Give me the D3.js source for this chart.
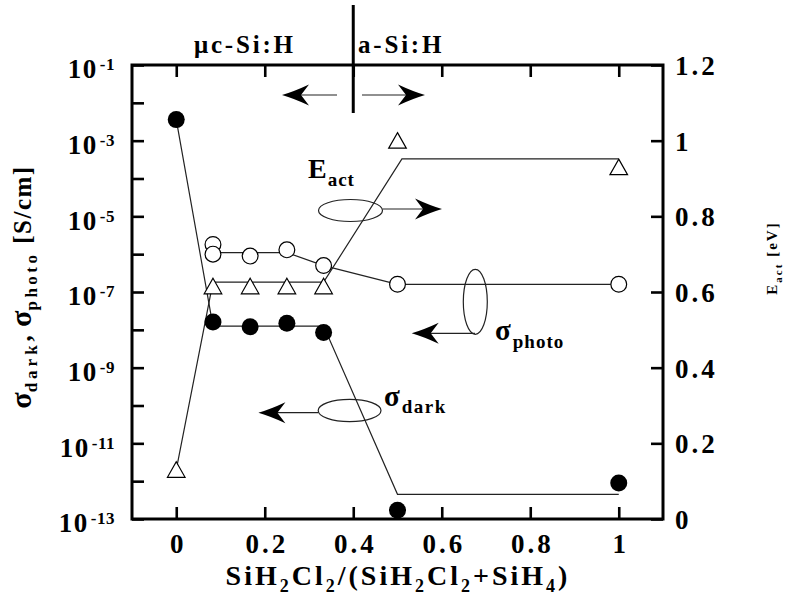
<!DOCTYPE html>
<html>
<head>
<meta charset="utf-8">
<script src="https://cdn.jsdelivr.net/npm/d3@7"></script>
<style>
  body { margin: 0; background: #fff; }
  svg { display: block; }
</style>
</head>
<body>
<svg id="chart" width="790" height="609"></svg>
<script>
// SiH2Cl2 fraction of each film
const ratio = [0, 0.083, 0.167, 0.25, 0.333, 0.5, 1];
// dark conductivity [S/cm]
const sigmaDark = [3.6e-3, 1.6e-8, 1.2e-8, 1.5e-8, 8.5e-9, 1.7e-13, 9e-13];
// photo conductivity [S/cm] (two films at 0.083)
const photoRatio = [0.083, 0.083, 0.167, 0.25, 0.333, 0.5, 1];
const sigmaPhoto = [1.8e-6, 1.0e-6, 8.9e-7, 1.3e-6, 5.0e-7, 1.6e-7, 1.6e-7];
// activation energy [eV]
const eAct = [0.13, 0.615, 0.615, 0.615, 0.615, 1.0, 0.93];

// trend guides drawn through each series
const darkGuideX = [0, 0.083, 0.333, 0.5, 1];
const darkGuideY = [3.6e-3, 1.26e-8, 1.26e-8, 4.5e-13, 4.5e-13];
const photoGuideX = [0.083, 0.25, 0.333, 0.5, 1];
const photoGuideY = [1.1e-6, 1.1e-6, 5.0e-7, 1.6e-7, 1.6e-7];
const eactGuideX = [0, 0.083, 0.333, 0.51, 1];
const eactGuideY = [0.13, 0.626, 0.626, 0.952, 0.952];

// axis ticks
const xTicks = [0, 0.2, 0.4, 0.6, 0.8, 1];
const xTickLabels = ["0", "0.2", "0.4", "0.6", "0.8", "1"];
const decadeExponents = [-13, -12, -11, -10, -9, -8, -7, -6, -5, -4, -3, -2, -1];
const eTicks = [0, 0.2, 0.4, 0.6, 0.8, 1.0, 1.2];
const eTickLabels = ["0", "0.2", "0.4", "0.6", "0.8", "1", "1.2"];

const FONT = "'Liberation Serif', 'Times New Roman', Times, serif";
const INK = "#000";

const svg = d3.select("#chart");
svg.append("rect").attr("width", 790).attr("height", 609).attr("fill", "#fff");

const plotLeft = 132, plotRight = 663, plotTop = 65, plotBottom = 519;
const x = d3.scaleLinear().domain([-0.1, 1.1]).range([plotLeft, plotRight]);
const yS = d3.scaleLog().domain([1e-13, 1e-1]).range([plotBottom, plotTop]);
const yE = d3.scaleLinear().domain([0, 1.2]).range([plotBottom, plotTop]);

function styleAxis(g) {
  g.select(".domain").remove();
  g.selectAll(".tick line").attr("stroke", INK).attr("stroke-width", 2.6);
  g.selectAll(".tick text")
    .attr("fill", INK)
    .attr("font-family", FONT)
    .attr("font-weight", "bold")
    .attr("font-size", 27);
}

// bottom axis
const gB = svg.append("g").attr("transform", `translate(0,${plotBottom})`)
  .call(d3.axisBottom(x).tickValues(xTicks).tickSize(-12).tickPadding(15)
    .tickFormat((d, i) => xTickLabels[i]));
styleAxis(gB);
gB.selectAll(".tick text").attr("letter-spacing", 3).attr("dx", 1.5);

// top axis (ticks only)
const gT = svg.append("g").attr("transform", `translate(0,${plotTop})`)
  .call(d3.axisTop(x).tickValues(xTicks).tickSize(-12).tickFormat(() => ""));
styleAxis(gT);

// left log axis: a tick every decade, label every other decade
const gL = svg.append("g").attr("transform", `translate(${plotLeft},0)`)
  .call(d3.axisLeft(yS).tickValues(decadeExponents.map(e => Math.pow(10, e)))
    .tickSize(-12).tickPadding(17).tickFormat(() => ""));
styleAxis(gL);
gL.selectAll(".tick text").each(function (d, i) {
  const e = decadeExponents[i];
  const t = d3.select(this).attr("dy", "0.48em");
  if (Math.abs(e) % 2 === 1) {
    t.append("tspan").text("10").attr("letter-spacing", 1.5);
    t.append("tspan").text("-" + Math.abs(e))
      .attr("font-size", 17).attr("dx", 2).attr("dy", -8).attr("letter-spacing", 0.5);
  }
});

// right linear axis for activation energy
const gR = svg.append("g").attr("transform", `translate(${plotRight},0)`)
  .call(d3.axisRight(yE).tickValues(eTicks).tickSize(-12).tickPadding(12)
    .tickFormat((d, i) => eTickLabels[i]));
styleAxis(gR);
gR.selectAll(".tick text").attr("letter-spacing", 3).attr("dy", "0.35em");

// plot frame
svg.append("rect")
  .attr("x", plotLeft).attr("y", plotTop)
  .attr("width", plotRight - plotLeft).attr("height", plotBottom - plotTop)
  .attr("fill", "none").attr("stroke", INK).attr("stroke-width", 3);

// guides
const lineS = d3.line().x(d => x(d[0])).y(d => yS(d[1]));
const lineE = d3.line().x(d => x(d[0])).y(d => yE(d[1]));
const guides = svg.append("g").attr("fill", "none").attr("stroke", "#222").attr("stroke-width", 1.2);
guides.append("path").attr("d", lineS(d3.zip(darkGuideX, darkGuideY)));
guides.append("path").attr("d", lineS(d3.zip(photoGuideX, photoGuideY)));
guides.append("path").attr("d", lineE(d3.zip(eactGuideX, eactGuideY)));

// markers
svg.append("g").selectAll("path")
  .data(d3.zip(ratio, eAct))
  .join("path")
  .attr("d", d => {
    const cx = x(d[0]), cy = yE(d[1]);
    return `M${cx},${cy - 8}L${cx + 8.8},${cy + 7.5}L${cx - 8.8},${cy + 7.5}Z`;
  })
  .attr("fill", "#fff").attr("stroke", INK).attr("stroke-width", 1.2);

svg.append("g").selectAll("circle")
  .data(d3.zip(photoRatio, sigmaPhoto))
  .join("circle")
  .attr("cx", d => x(d[0])).attr("cy", d => yS(d[1])).attr("r", 7.9)
  .attr("fill", "#fff").attr("stroke", INK).attr("stroke-width", 1.2);

svg.append("g").selectAll("circle")
  .data(d3.zip(ratio, sigmaDark))
  .join("circle")
  .attr("cx", d => x(d[0])).attr("cy", d => yS(d[1])).attr("r", 8.5)
  .attr("fill", INK);

// arrows with barbed heads
function arrow(x1, y, x2) {
  const dir = x2 > x1 ? 1 : -1;
  const g = svg.append("g");
  g.append("line").attr("x1", x1).attr("x2", x2 - dir * 14).attr("y1", y).attr("y2", y)
    .attr("stroke", "#222").attr("stroke-width", 1.2);
  g.append("path")
    .attr("transform", `translate(${x2},${y}) scale(${dir},1)`)
    .attr("d", "M0,0 Q-12,-3.5 -27,-10.5 L-19,0 L-27,10.5 Q-12,3.5 0,0 Z")
    .attr("fill", INK);
}

function ellipse(cx, cy, rx, ry) {
  svg.append("ellipse").attr("cx", cx).attr("cy", cy).attr("rx", rx).attr("ry", ry)
    .attr("fill", "none").attr("stroke", "#222").attr("stroke-width", 1.2);
}

// phase boundary between microcrystalline and amorphous films
svg.append("line")
  .attr("x1", x(0.4)).attr("x2", x(0.4)).attr("y1", 5).attr("y2", 113)
  .attr("stroke", INK).attr("stroke-width", 3);
arrow(337, 95, 282);
arrow(362, 95, 425);

const label = (tx, ty, anchor) => svg.append("text")
  .attr("x", tx).attr("y", ty).attr("text-anchor", anchor || "start")
  .attr("font-family", FONT).attr("font-weight", "bold").attr("fill", INK);

label(194, 53).attr("font-size", 25).attr("letter-spacing", 2.8).text("\u03bcc-Si:H");
label(358, 53).attr("font-size", 25).attr("letter-spacing", 2.8).text("a-Si:H");

// E_act callout
ellipse(350.5, 210.5, 32, 11);
arrow(382.5, 209, 442);
const tE = label(308, 178).attr("font-size", 28);
tE.append("tspan").text("E");
tE.append("tspan").text("act").attr("font-size", 19).attr("dy", 8).attr("dx", 1).attr("letter-spacing", 1);

// sigma_photo callout
ellipse(475.3, 301.8, 12, 32.5);
arrow(475, 333.3, 411.7);
const tP = label(495, 340).attr("font-size", 29);
tP.append("tspan").text("\u03c3");
tP.append("tspan").text("photo").attr("font-size", 19).attr("dy", 8).attr("dx", 2).attr("letter-spacing", 1);

// sigma_dark callout
ellipse(349.6, 410.5, 31.4, 11.2);
arrow(318, 412.7, 258.4);
const tD = label(384, 406).attr("font-size", 29);
tD.append("tspan").text("\u03c3");
tD.append("tspan").text("dark").attr("font-size", 19).attr("dy", 7).attr("dx", 2).attr("letter-spacing", 1.5);

// x-axis title
const tX = label(398, 585, "middle").attr("font-size", 28).attr("letter-spacing", 3);
[["SiH", 0], ["2", 7], ["Cl", -7], ["2", 7], ["/(SiH", -7], ["2", 7], ["Cl", -7], ["2", 7],
 ["+SiH", -7], ["4", 7], [")", -7]].forEach(([s, dy]) => {
  const sp = tX.append("tspan").text(s).attr("dy", dy);
  if (/^[24]$/.test(s)) sp.attr("font-size", 18);
});

// left axis title
const tL = svg.append("text")
  .attr("transform", "translate(31,287) rotate(-90)")
  .attr("text-anchor", "middle")
  .attr("font-family", FONT).attr("font-weight", "bold").attr("fill", INK)
  .attr("font-size", 25);
tL.append("tspan").text("\u03c3").attr("font-size", 30);
tL.append("tspan").text("dark").attr("font-size", 17).attr("dy", 6).attr("letter-spacing", 4);
tL.append("tspan").text(", ").attr("dy", -6);
tL.append("tspan").text("\u03c3").attr("font-size", 30).attr("dx", 2);
tL.append("tspan").text("photo").attr("font-size", 17).attr("dy", 6).attr("letter-spacing", 3.5);
tL.append("tspan").text(" [S/cm]").attr("dy", -6).attr("letter-spacing", 1.5);

// right axis title
const tR = svg.append("text")
  .attr("transform", "translate(777,258) rotate(-90)")
  .attr("text-anchor", "middle")
  .attr("font-family", FONT).attr("font-weight", "bold").attr("fill", INK)
  .attr("font-size", 15).attr("letter-spacing", 2);
tR.append("tspan").text("E");
tR.append("tspan").text("act").attr("font-size", 11).attr("dy", 5);
tR.append("tspan").text(" [eV]").attr("dy", -5);
</script>
</body>
</html>
